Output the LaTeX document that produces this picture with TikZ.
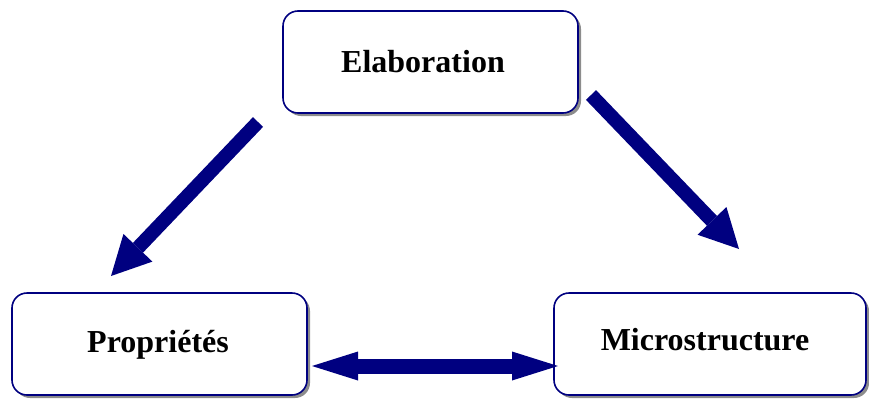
\documentclass[tikz,border=0pt]{standalone}
\usepackage{fontspec}
\setmainfont{Liberation Serif}
\usetikzlibrary{arrows.meta,shadows}
\definecolor{navy}{RGB}{0,0,128}
\tikzset{
  box/.style={draw=navy, line width=1.6pt, rounded corners=15pt, fill=white,
    minimum width=#1, minimum height=102pt, inner sep=0pt,
    drop shadow={shadow xshift=3pt, shadow yshift=-3pt, fill=black!45, opacity=1}},
  label/.style={font=\fontsize{32}{36}\selectfont\bfseries},
  bigarrow/.style={draw=navy, line width=14pt,
    -{Triangle[length=39pt,width=40pt,line width=0pt]}},
  dblarrow/.style={draw=navy, line width=15pt,
    {Triangle[length=46pt,width=29pt,line width=0pt]}-{Triangle[length=46pt,width=29pt,line width=0pt]}},
}
\begin{document}
\begin{tikzpicture}[x=1pt,y=-1pt]
\useasboundingbox (0,0) rectangle (869,399);
\node[box=295pt] (elab) at (430.5,62) {};
\node[label] (elabt) at (423,62) {Elaboration};
\node[box=295pt] (prop) at (159.5,344) {};
\node[label] (propt) at (158,345) {Propriétés};
\node[box=312pt] (micro) at (710,344) {};
\node[label] (microt) at (705,340) {Microstructure};
\coordinate (a1s) at (258,122);
\coordinate (a1e) at (111,276);
\coordinate (a2s) at (591,95);
\coordinate (a2e) at (739,249);
\coordinate (a3s) at (312,366);
\coordinate (a3e) at (558,366);
\draw[bigarrow] (a1s) -- (a1e);
\draw[bigarrow] (a2s) -- (a2e);
\draw[dblarrow] (a3s) -- (a3e);
\end{tikzpicture}
\end{document}
